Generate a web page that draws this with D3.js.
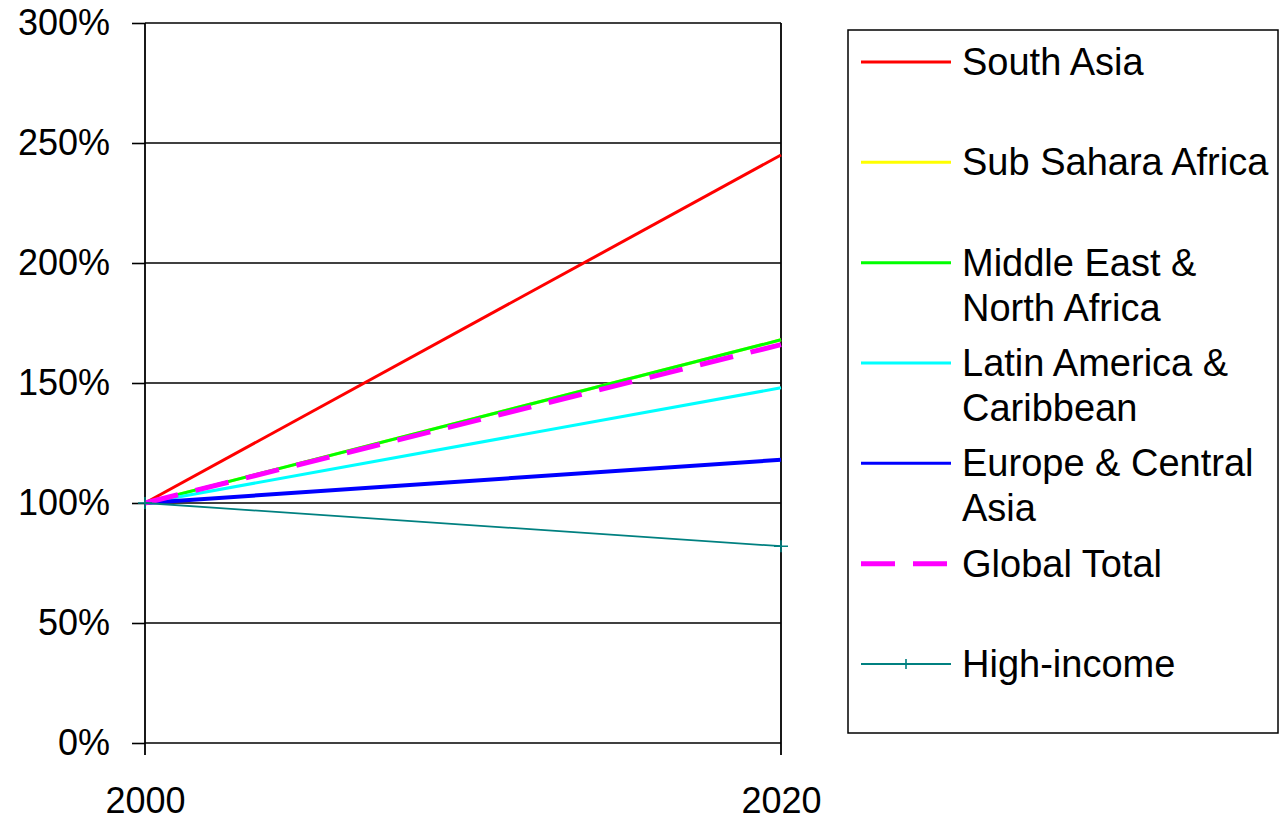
<!DOCTYPE html>
<html>
<head>
<meta charset="utf-8">
<script src="https://cdn.jsdelivr.net/npm/d3@7/dist/d3.min.js"></script>
<style>
  html, body { margin: 0; padding: 0; background: #fff; }
  svg { display: block; font-family: "Liberation Sans", Arial, sans-serif; }
</style>
</head>
<body>
<svg id="chart" width="1280" height="820"></svg>
<script>
// Years on the category axis
const years = ["2000", "2020"];

// Regional growth relative to 2000 (percent)
const southAsia       = [100, 245];
const subSaharaAfrica = [100, 168];
const middleEast      = [100, 168];
const latinAmerica    = [100, 148];
const europeCentral   = [100, 118];
const globalTotal     = [100, 166];
const highIncome      = [100, 82];

// Y axis tick values
const yTicks = [0, 50, 100, 150, 200, 250, 300];

const series = [
  { name: ["South Asia"], values: southAsia, color: "#ff0000", width: 3 },
  { name: ["Sub Sahara Africa"], values: subSaharaAfrica, color: "#ffff00", width: 3 },
  { name: ["Middle East &", "North Africa"], values: middleEast, color: "#00ff00", width: 3 },
  { name: ["Latin America &", "Caribbean"], values: latinAmerica, color: "#00ffff", width: 3 },
  { name: ["Europe & Central", "Asia"], values: europeCentral, color: "#0000ff", width: 4 },
  { name: ["Global Total"], values: globalTotal, color: "#ff00ff", width: 5, dash: "34,18" },
  { name: ["High-income"], values: highIncome, color: "#008080", width: 1.8, marker: true }
];

const svg = d3.select("#chart");
const plot = { left: 145, right: 781, top: 23, bottom: 743 };

const x = d3.scalePoint().domain(years).range([plot.left, plot.right]);
const y = d3.scaleLinear().domain([0, 300]).range([plot.bottom, plot.top]);

// Horizontal gridlines
svg.append("g")
  .selectAll("line")
  .data(yTicks)
  .join("line")
  .attr("x1", plot.left).attr("x2", plot.right)
  .attr("y1", d => y(d)).attr("y2", d => y(d))
  .attr("stroke", "#000").attr("stroke-width", 1.6);

// Y axis
const yAxis = svg.append("g")
  .attr("transform", `translate(${plot.left},0)`)
  .call(d3.axisLeft(y).tickValues(yTicks).tickSize(13).tickPadding(22).tickFormat(d => d + "%"));
yAxis.select(".domain").remove();
yAxis.selectAll(".tick line").attr("stroke", "#000").attr("stroke-width", 1.6);
yAxis.selectAll(".tick text").attr("font-size", 36).attr("fill", "#000")
  .attr("font-family", "Liberation Sans, Arial, sans-serif");

// Vertical axis lines at each category, extended below the baseline as ticks
svg.append("g")
  .selectAll("line")
  .data(years)
  .join("line")
  .attr("x1", d => x(d)).attr("x2", d => x(d))
  .attr("y1", plot.top).attr("y2", plot.bottom + 12)
  .attr("stroke", "#000").attr("stroke-width", 1.8);

// X axis labels
const xAxis = svg.append("g")
  .attr("transform", `translate(0,${plot.bottom})`)
  .call(d3.axisBottom(x).tickSize(0).tickPadding(44));
xAxis.select(".domain").remove();
xAxis.selectAll(".tick text").attr("font-size", 36).attr("fill", "#000")
  .attr("font-family", "Liberation Sans, Arial, sans-serif");

// Series lines
const line = d3.line().x((d, i) => x(years[i])).y(d => y(d));
svg.append("g")
  .selectAll("path")
  .data(series)
  .join("path")
  .attr("d", d => line(d.values))
  .attr("fill", "none")
  .attr("stroke", d => d.color)
  .attr("stroke-width", d => d.width)
  .attr("stroke-dasharray", d => d.dash || null);

// Cross markers on the high-income series
const crossPath = "M-7,0H7M0,-6V6";
series.filter(s => s.marker).forEach(s => {
  svg.append("g")
    .selectAll("path")
    .data(s.values)
    .join("path")
    .attr("transform", (d, i) => `translate(${x(years[i])},${y(d)})`)
    .attr("d", crossPath)
    .attr("stroke", s.color)
    .attr("stroke-width", 1.6)
    .attr("fill", "none");
});

// Legend
const legend = svg.append("g");
legend.append("rect")
  .attr("x", 848).attr("y", 30)
  .attr("width", 430).attr("height", 703)
  .attr("fill", "#fff").attr("stroke", "#000").attr("stroke-width", 1.5);

const legendY = d3.scaleLinear().domain([0, series.length - 1]).range([62, 664]);
const items = legend.selectAll("g.item")
  .data(series)
  .join("g")
  .attr("class", "item")
  .attr("transform", (d, i) => `translate(0,${legendY(i)})`);

items.append("line")
  .attr("x1", 861).attr("x2", 951).attr("y1", 0).attr("y2", 0)
  .attr("stroke", d => d.color)
  .attr("stroke-width", d => d.dash ? 5 : (d.marker ? 1.8 : 3))
  .attr("stroke-dasharray", d => d.dash || null);

items.filter(d => d.marker).append("path")
  .attr("transform", "translate(906,0)")
  .attr("d", "M-5,0H5M0,-5V5")
  .attr("stroke", d => d.color).attr("stroke-width", 1.6);

items.append("text")
  .attr("x", 962).attr("y", 13)
  .attr("font-size", 38).attr("fill", "#000")
  .selectAll("tspan")
  .data(d => d.name)
  .join("tspan")
  .attr("x", 962)
  .attr("dy", (d, i) => i === 0 ? 0 : 45)
  .text(d => d);
</script>
</body>
</html>
